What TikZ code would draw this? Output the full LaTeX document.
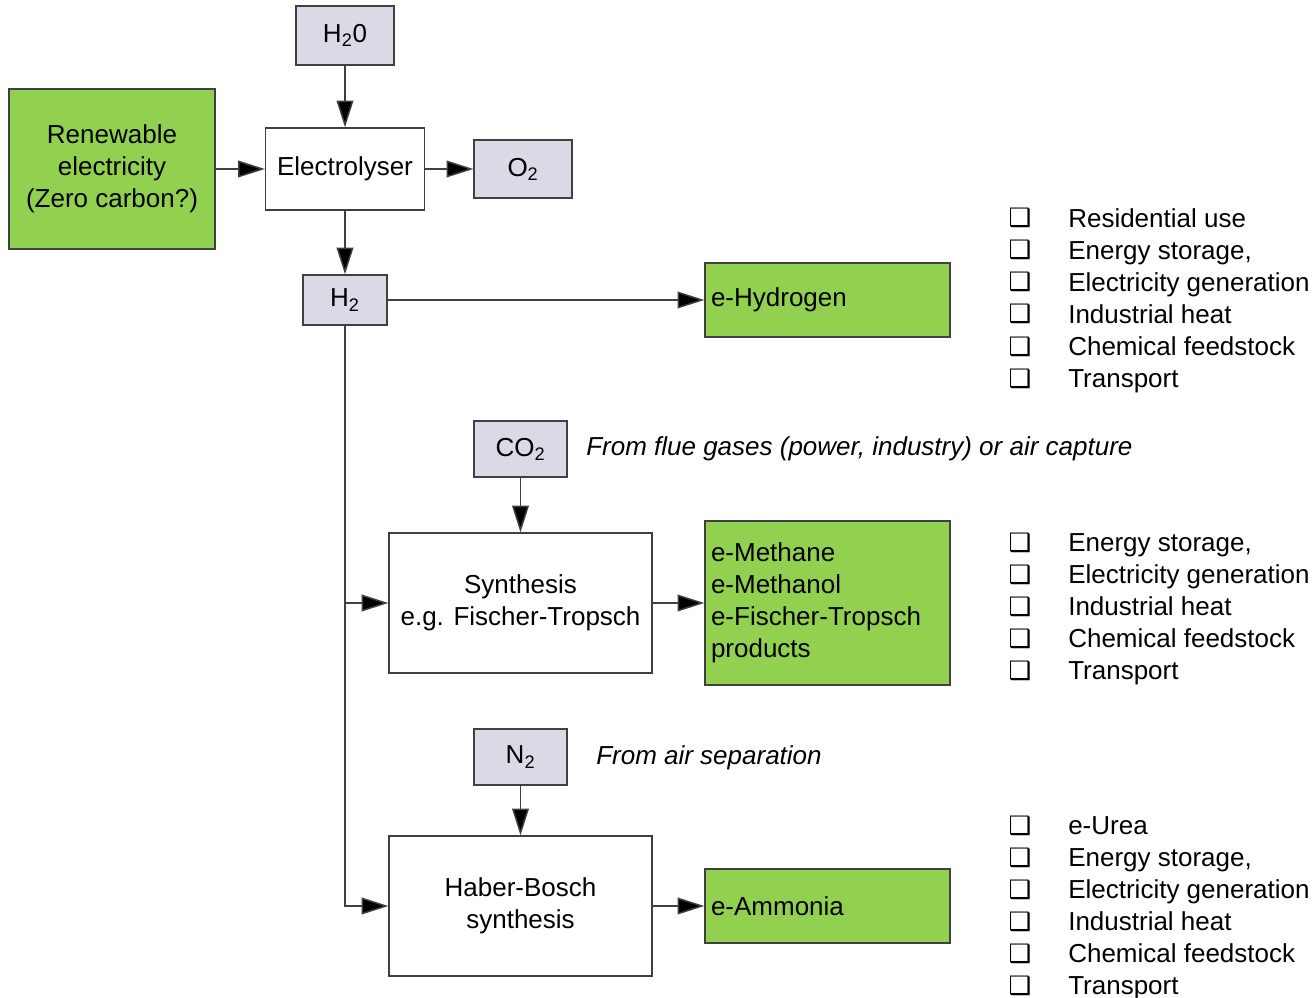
\documentclass[tikz,border=0pt]{standalone}
\usepackage{fontspec}
\setmainfont{Liberation Sans}
\newfontfamily\dejavu{DejaVu Sans Bold}
\usetikzlibrary{arrows.meta}
\newlength\px \setlength\px{0.75pt}
\definecolor{lav}{HTML}{DDD8E6}
\definecolor{grn}{HTML}{92D050}
\definecolor{edge}{HTML}{404040}
\tikzset{
  every node/.style={font=\fontsize{19.5}{24}\selectfont},
  box/.style={draw=edge, line width=1.3pt*0.75, align=center, inner sep=0pt},
  gas/.style={box, fill=lav},
  prod/.style={box, fill=grn},
  lprod/.style={box, fill=grn, align=left, text width=233\px, inner xsep=6\px},
  flow/.style={draw=edge, line width=1.1pt, -{Triangle[length=20pt,width=12.5pt,fill=black]}},
  item/.style={anchor=base west, inner sep=0pt},
  bul/.style={anchor=base, inner sep=0pt, font=\dejavu\fontsize{19}{24}\selectfont},
  note/.style={anchor=west, inner sep=0pt, font=\itshape\fontsize{19.5}{24}\selectfont},
}
\begin{document}
\begin{tikzpicture}[x=0.75pt, y=-0.75pt]
\useasboundingbox (0,0) rectangle (1316,998);
% boxes
\node[gas, minimum width=98\px, minimum height=59\px] (h2o) at (345,35.5) {H\textsubscript{2}0};
\node[prod, minimum width=206\px, minimum height=160\px] (ren) at (112,169) {Renewable\\electricity\\(Zero carbon?)};
\node[box, fill=white, minimum width=159\px, minimum height=82\px] (ely) at (345,169) {Electrolyser};
\node[gas, minimum width=98\px, minimum height=58\px] (o2) at (523,169) {O\textsubscript{2}};
\node[gas, minimum width=84\px, minimum height=50\px] (h2) at (345,300) {H\textsubscript{2}};
\node[lprod, minimum height=74\px] (ehy) at (827.5,300) {e-Hydrogen};
\node[gas, minimum width=93\px, minimum height=56\px] (co2) at (520.5,449) {CO\textsubscript{2}};
\node[note] (fg) at (586,449) {From flue gases (power, industry) or air capture};
\node[box, fill=white, minimum width=263\px, minimum height=140\px] (syn) at (520.5,603) {Synthesis\\e.g. Fischer-Tropsch};
\node[lprod, minimum height=164\px] (emeth) at (827.5,603) {e-Methane\\e-Methanol\\e-Fischer-Tropsch\\products};
\node[gas, minimum width=93\px, minimum height=56\px] (n2) at (520.5,757) {N\textsubscript{2}};
\node[note] (as) at (596,758) {From air separation};
\node[box, fill=white, minimum width=263\px, minimum height=140\px] (hb) at (520.5,906) {Haber-Bosch\\synthesis};
\node[lprod, minimum height=74\px] (eam) at (827.5,906) {e-Ammonia};
% connectors
\draw[flow] (h2o) -- (ely);
\draw[flow] (ren) -- (ely);
\draw[flow] (ely) -- (o2);
\draw[flow] (ely) -- (h2);
\draw[flow] (h2) -- (ehy);
\draw[flow] (h2.south) |- (syn.west);
\draw[flow] (h2.south) |- (hb.west);
\draw[flow] (co2) -- (syn);
\draw[flow] (syn) -- (emeth);
\draw[flow] (n2) -- (hb);
\draw[flow] (hb) -- (eam);
% lists
\foreach \y/\t [count=\i] in {219/Residential use, 251/{Energy storage,}, 283/Electricity generation, 315/Industrial heat, 347/Chemical feedstock, 379/Transport}{
  \node[bul] (la\i) at (1020,\y+8) {❑};
  \node[item] (ta\i) at (1068,\y+8.5) {\t};
}
\foreach \y/\t [count=\i] in {543/{Energy storage,}, 575/Electricity generation, 607/Industrial heat, 639/Chemical feedstock, 671/Transport}{
  \node[bul] (lb\i) at (1020,\y+8) {❑};
  \node[item] (tb\i) at (1068,\y+8.5) {\t};
}
\foreach \y/\t [count=\i] in {826/e-Urea, 858/{Energy storage,}, 890/Electricity generation, 922/Industrial heat, 954/Chemical feedstock, 986/Transport}{
  \node[bul] (lc\i) at (1020,\y+8) {❑};
  \node[item] (tc\i) at (1068,\y+8.5) {\t};
}
\end{tikzpicture}
\end{document}
